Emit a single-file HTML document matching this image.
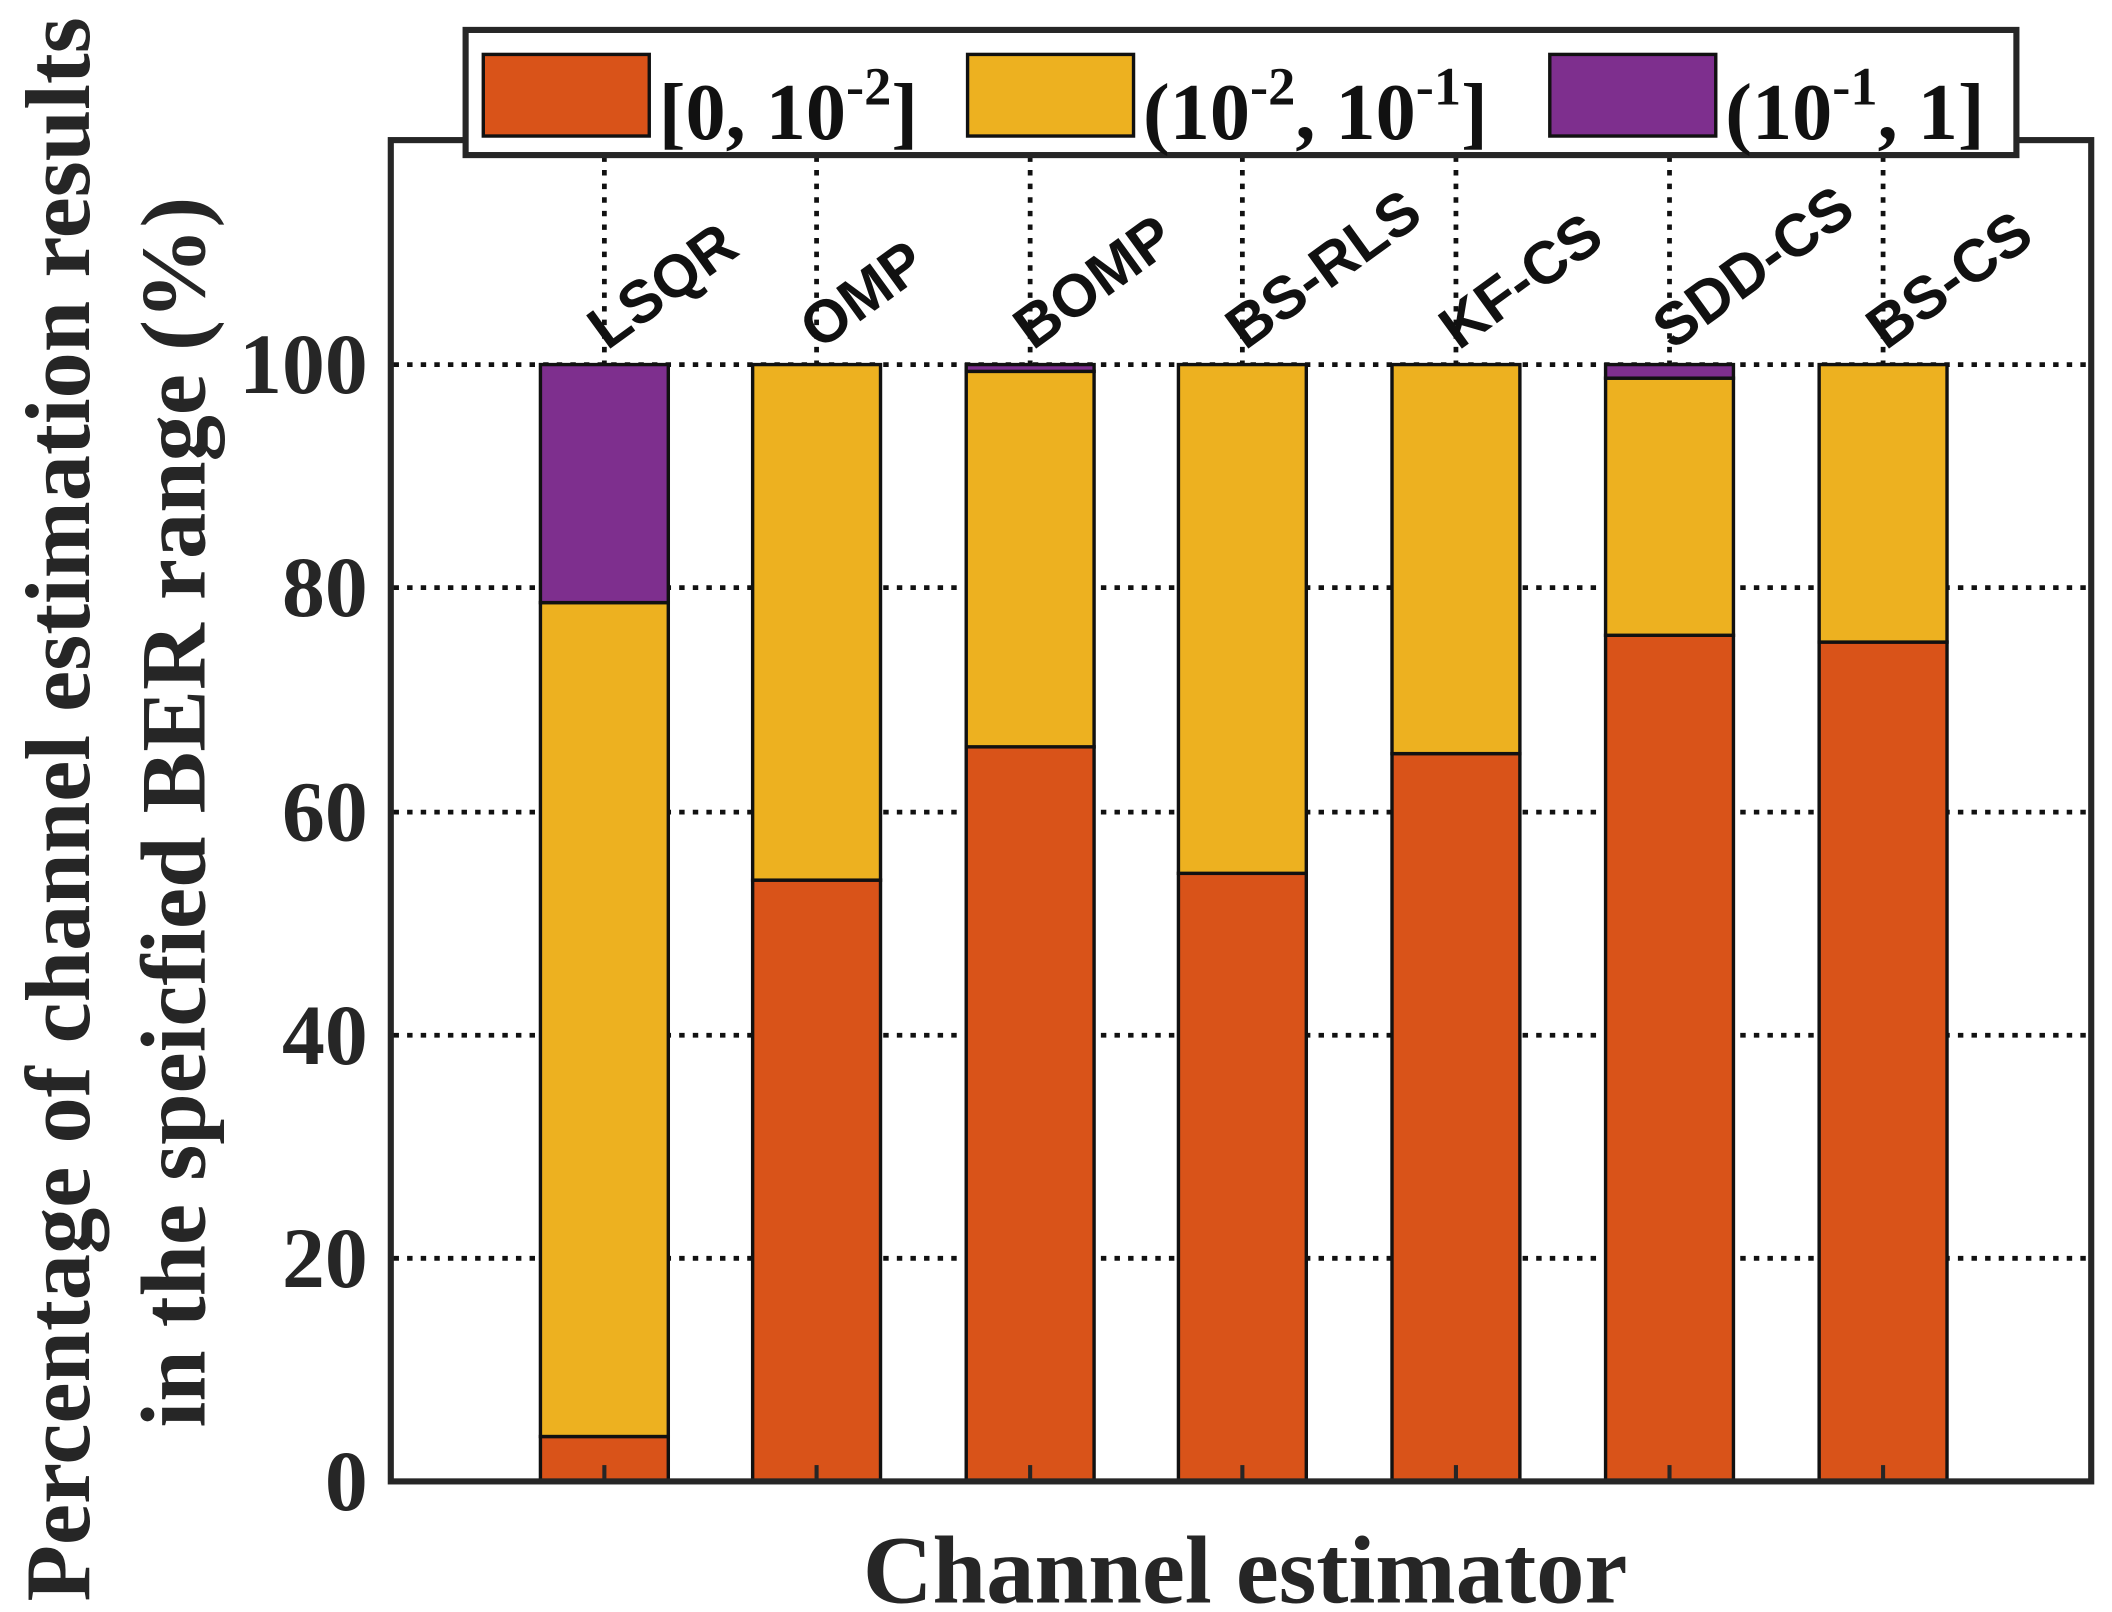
<!DOCTYPE html>
<html><head><meta charset="utf-8"><style>html,body{margin:0;padding:0;background:#fff}svg{display:block}</style></head>
<body>
<svg width="2112" height="1612" viewBox="0 0 1552 1185" xmlns="http://www.w3.org/2000/svg">
<rect width="1552" height="1185" fill="#fff"/>
<!-- grid -->
<g stroke="#111" stroke-width="3.5" stroke-dasharray="4,6">
<line x1="289" y1="925" x2="1535" y2="925"/>
<line x1="289" y1="761" x2="1535" y2="761"/>
<line x1="289" y1="597" x2="1535" y2="597"/>
<line x1="289" y1="432" x2="1535" y2="432"/>
<line x1="289" y1="268" x2="1535" y2="268"/>
<line x1="444" y1="105" x2="444" y2="268"/>
<line x1="600" y1="105" x2="600" y2="268"/>
<line x1="757" y1="105" x2="757" y2="268"/>
<line x1="913" y1="105" x2="913" y2="268"/>
<line x1="1070" y1="105" x2="1070" y2="268"/>
<line x1="1227" y1="105" x2="1227" y2="268"/>
<line x1="1384" y1="105" x2="1384" y2="268"/>
</g>
<!-- bars -->
<g stroke="#111" stroke-width="2.5">
<rect x="397" y="1056" width="94" height="33" fill="#D95319"/>
<rect x="397" y="443" width="94" height="613" fill="#EDB120"/>
<rect x="397" y="268" width="94" height="175" fill="#7E2F8E"/>
<rect x="553" y="647" width="94" height="442" fill="#D95319"/>
<rect x="553" y="268" width="94" height="379" fill="#EDB120"/>
<rect x="710" y="549" width="94" height="540" fill="#D95319"/>
<rect x="710" y="273" width="94" height="276" fill="#EDB120"/>
<rect x="710" y="268" width="94" height="5" fill="#7E2F8E"/>
<rect x="866" y="642" width="94" height="447" fill="#D95319"/>
<rect x="866" y="268" width="94" height="374" fill="#EDB120"/>
<rect x="1023" y="554" width="94" height="535" fill="#D95319"/>
<rect x="1023" y="268" width="94" height="286" fill="#EDB120"/>
<rect x="1180" y="467" width="94" height="622" fill="#D95319"/>
<rect x="1180" y="278" width="94" height="189" fill="#EDB120"/>
<rect x="1180" y="268" width="94" height="10" fill="#7E2F8E"/>
<rect x="1337" y="472" width="94" height="617" fill="#D95319"/>
<rect x="1337" y="268" width="94" height="204" fill="#EDB120"/>
</g>
<!-- axes box -->
<rect x="287" y="103" width="1250" height="986" fill="none" stroke="#262626" stroke-width="4.5"/>
<g stroke="#262626" stroke-width="3">
<line x1="444" y1="1087" x2="444" y2="1077"/><line x1="600" y1="1087" x2="600" y2="1077"/>
<line x1="757" y1="1087" x2="757" y2="1077"/><line x1="913" y1="1087" x2="913" y2="1077"/>
<line x1="1070" y1="1087" x2="1070" y2="1077"/><line x1="1227" y1="1087" x2="1227" y2="1077"/>
<line x1="1384" y1="1087" x2="1384" y2="1077"/>
</g>
<!-- y tick labels -->
<g font-family="Liberation Serif, serif" font-weight="bold" font-size="63" fill="#262626" text-anchor="end">
<text x="270" y="1110">0</text>
<text x="270" y="946">20</text>
<text x="270" y="782">40</text>
<text x="270" y="618">60</text>
<text x="270" y="453">80</text>
<text x="270" y="289">100</text>
</g>
<!-- category labels -->
<g font-family="Liberation Sans, sans-serif" font-weight="bold" font-size="44" fill="#111">
<text transform="translate(446,258) rotate(-36)">LSQR</text>
<text transform="translate(602,258) rotate(-36)">OMP</text>
<text transform="translate(759,258) rotate(-36)">BOMP</text>
<text transform="translate(915,258) rotate(-36)">BS-RLS</text>
<text transform="translate(1072,258) rotate(-36)">KF-CS</text>
<text transform="translate(1229,258) rotate(-36)">SDD-CS</text>
<text transform="translate(1386,258) rotate(-36)">BS-CS</text>
</g>
<!-- axis titles -->
<text x="915" y="1178" text-anchor="middle" font-family="Liberation Serif, serif" font-weight="bold" font-size="71" fill="#262626">Channel estimator</text>
<g font-family="Liberation Serif, serif" font-weight="bold" font-size="68" fill="#262626" text-anchor="middle">
<text transform="translate(65,595) rotate(-90)">Percentage of channel estimation results</text>
<text transform="translate(150,597) rotate(-90)">in the speicfied BER range (%)</text>
</g>
<!-- legend -->
<rect x="342" y="22" width="1140" height="92" fill="#fff" stroke="#262626" stroke-width="4.5"/>
<g stroke="#111" stroke-width="2.5">
<rect x="355" y="40" width="122" height="60" fill="#D95319"/>
<rect x="711" y="40" width="122" height="60" fill="#EDB120"/>
<rect x="1139" y="40" width="122" height="60" fill="#7E2F8E"/>
</g>
<g font-family="Liberation Serif, serif" font-weight="bold" font-size="59" fill="#111">
<text x="484" y="102">[0, 10<tspan font-size="40" dy="-25">-2</tspan><tspan dy="25">]</tspan></text>
<text x="840" y="102">(10<tspan font-size="40" dy="-25">-2</tspan><tspan dy="25">, 10</tspan><tspan font-size="40" dy="-25">-1</tspan><tspan dy="25">]</tspan></text>
<text x="1268" y="102">(10<tspan font-size="40" dy="-25">-1</tspan><tspan dy="25">, 1]</tspan></text>
</g>
</svg>
</body></html>
